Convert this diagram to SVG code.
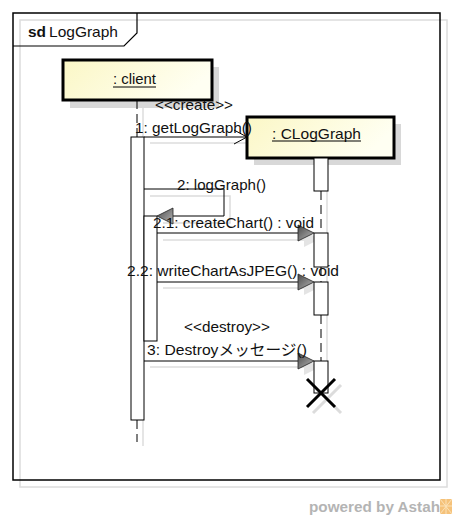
<svg xmlns="http://www.w3.org/2000/svg" width="453" height="520" viewBox="0 0 453 520">
<defs>
<linearGradient id="boxg" x1="0" y1="0" x2="1" y2="0.3">
<stop offset="0" stop-color="#fbf7c6"/>
<stop offset="1" stop-color="#fffff2"/>
</linearGradient>
<linearGradient id="headg" x1="0" y1="0" x2="1" y2="1">
<stop offset="0" stop-color="#4a4a4a"/>
<stop offset="1" stop-color="#b8b8b8"/>
</linearGradient>
<style>
.t{font-family:"Liberation Sans","Noto Sans CJK JP",Arial,sans-serif;font-size:15px;fill:#111}
.sh{stroke:#dcdcdc;stroke-width:1.5;fill:none}
.shf{fill:#e4e4e4;stroke:none}
.ln{stroke:#000;stroke-width:1;fill:none}
.ll{stroke:#000;stroke-width:1;stroke-dasharray:9,5;fill:none}
.act{fill:#fff;stroke:#000;stroke-width:1}
.box{fill:url(#boxg);stroke:#000;stroke-width:3}
.head{fill:url(#headg);stroke:#222;stroke-width:0.8}
</style>
</defs>
<rect width="453" height="520" fill="#fff"/>
<g id="frame">
<rect x="20" y="20" width="427" height="467" class="sh"/>
<rect x="13" y="13" width="427" height="467" fill="none" stroke="#000" stroke-width="1.5"/>
<path d="M13,46 L124,46 L137,33 L137,13" fill="none" stroke="#000" stroke-width="1.2"/>
<text x="28" y="37" class="t" style="font-weight:bold" textLength="18" lengthAdjust="spacingAndGlyphs">sd</text>
<text x="49" y="37" class="t" textLength="69" lengthAdjust="spacingAndGlyphs">LogGraph</text>
</g>
<g id="shadows">
<line x1="143" y1="106" x2="143" y2="137" class="sh"/>
<line x1="143" y1="420" x2="143" y2="446" class="sh"/>
<line x1="327" y1="191" x2="327" y2="361" class="sh"/>
<line x1="150" y1="143" x2="253" y2="143" class="sh"/>
<path d="M150,196 L230,196 L230,223 L163,223" class="sh"/>
<line x1="163" y1="240" x2="304" y2="240" class="sh"/>
<line x1="163" y1="288" x2="304" y2="288" class="sh"/>
<line x1="150" y1="367" x2="304" y2="367" class="sh"/>
<polygon points="304,231 320,239 304,247" class="shf"/>
<polygon points="304,279 320,287 304,295" class="shf"/>
<polygon points="304,359 320,367 304,375" class="shf"/>
<line x1="313" y1="385" x2="341" y2="413" stroke="#dcdcdc" stroke-width="3"/>
<line x1="341" y1="385" x2="313" y2="413" stroke="#dcdcdc" stroke-width="3"/>
</g>
<g id="client">
<rect x="70" y="67" width="149" height="41" fill="#d8d8d8"/>
<rect x="63" y="60" width="149" height="40" class="box"/>
<text x="113" y="84" class="t" textLength="43" lengthAdjust="spacingAndGlyphs">: client</text>
<line x1="113" y1="87" x2="156" y2="87" stroke="#000" stroke-width="1"/>
<line x1="137" y1="100" x2="137" y2="137" class="ll"/>
<line x1="137" y1="420" x2="137" y2="442" class="ll"/>
<rect x="131" y="137" width="13" height="283" class="act"/>
<rect x="144" y="216" width="13" height="125" class="act"/>
</g>
<g id="clloggraph">
<rect x="254" y="124" width="147" height="41" fill="#d8d8d8"/>
<rect x="247" y="117" width="147" height="41" class="box"/>
<text x="272" y="139" class="t" textLength="89" lengthAdjust="spacingAndGlyphs">: CLogGraph</text>
<line x1="272" y1="141" x2="361" y2="141" stroke="#000" stroke-width="1"/>
<line x1="321" y1="191" x2="321" y2="233" class="ll"/>
<line x1="321" y1="267" x2="321" y2="282" class="ll"/>
<line x1="321" y1="315" x2="321" y2="361" class="ll"/>
<rect x="314" y="158" width="14" height="33" class="act"/>
<rect x="314" y="233" width="14" height="34" class="act"/>
<rect x="314" y="282" width="14" height="33" class="act"/>
<rect x="314" y="361" width="14" height="32" class="act"/>
<line x1="307" y1="379" x2="335" y2="407" stroke="#000" stroke-width="3"/>
<line x1="335" y1="379" x2="307" y2="407" stroke="#000" stroke-width="3"/>
</g>
<g id="connectors">
<line x1="144" y1="137" x2="247" y2="137" class="ln"/>
<path d="M234,130 L247,137 L234,144" class="ln" stroke-width="1.2"/>
<text x="155" y="110" class="t" textLength="78" lengthAdjust="spacingAndGlyphs">&lt;&lt;create&gt;&gt;</text>
<text x="135" y="133" class="t" textLength="117" lengthAdjust="spacingAndGlyphs">1: getLogGraph()</text>
<path d="M144,189 L224,189 L224,216 L170,216" class="ln"/>
<polygon points="157,216 173,208 173,224" class="head"/>
<text x="177" y="190" class="t" textLength="89" lengthAdjust="spacingAndGlyphs">2: logGraph()</text>
<line x1="157" y1="233" x2="300" y2="233" class="ln"/>
<polygon points="314,233 298,225 298,241" class="head"/>
<text x="153" y="228" class="t" textLength="161" lengthAdjust="spacingAndGlyphs">2.1: createChart() : void</text>
<line x1="157" y1="282" x2="300" y2="282" class="ln"/>
<polygon points="314,282 298,274 298,290" class="head"/>
<text x="127" y="276" class="t" textLength="212" lengthAdjust="spacingAndGlyphs">2.2: writeChartAsJPEG() : void</text>
<line x1="144" y1="361" x2="300" y2="361" class="ln"/>
<polygon points="314,361 298,353 298,369" class="head"/>
<text x="184" y="332" class="t" textLength="86" lengthAdjust="spacingAndGlyphs">&lt;&lt;destroy&gt;&gt;</text>
<text x="147" y="355" class="t" textLength="160" lengthAdjust="spacingAndGlyphs">3: Destroyメッセージ()</text>
</g>
<g id="logo">
<text x="309" y="512" style="font-family:'Liberation Sans',Arial,sans-serif;font-size:14px;font-weight:bold;fill:#b4b4b4" textLength="131" lengthAdjust="spacingAndGlyphs">powered by Astah</text>
<rect x="440" y="499" width="12" height="15" fill="#f5c27a"/>
<path d="M440,499 L452,514 M446,499 L446,514 M440,506 L452,506 M452,499 L440,514" stroke="#fbe2b8" stroke-width="1"/>
</g>
</svg>
